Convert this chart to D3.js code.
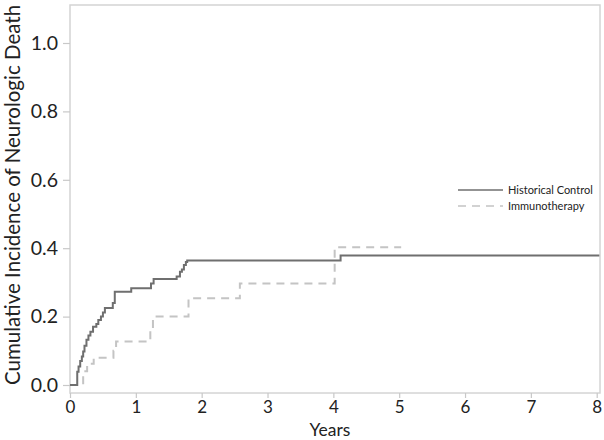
<!DOCTYPE html>
<html><head><meta charset="utf-8">
<script src="https://cdn.jsdelivr.net/npm/d3@7"></script>
<style>body{margin:0;background:#fff}svg{display:block}text{font-family:Lato,"Open Sans",sans-serif}</style>
</head><body>
<svg id="c" width="604" height="440"></svg>
<script>
// Historical Control: step times (years) and cumulative incidence after each step
const controlYears = [0, 0.11, 0.13, 0.155, 0.18, 0.2, 0.22, 0.25, 0.28, 0.31, 0.35, 0.40, 0.43, 0.47, 0.50, 0.53, 0.65, 0.68, 0.93, 1.23, 1.27, 1.62, 1.67, 1.70, 1.73, 1.76, 1.78, 4.11, 8.04];
const controlValues = [0, 0.039, 0.054, 0.07, 0.083, 0.098, 0.115, 0.132, 0.145, 0.156, 0.17, 0.178, 0.19, 0.2, 0.212, 0.225, 0.24, 0.273, 0.283, 0.297, 0.31, 0.317, 0.331, 0.338, 0.351, 0.36, 0.364, 0.379, 0.379];
// Immunotherapy
const immunoYears = [0, 0.2, 0.26, 0.36, 0.66, 0.70, 1.22, 1.26, 1.80, 2.58, 4.02, 5.03];
const immunoValues = [0, 0.04, 0.062, 0.08, 0.10, 0.127, 0.163, 0.2, 0.254, 0.297, 0.403, 0.403];
const xTicks = [0, 1, 2, 3, 4, 5, 6, 7, 8];
const yTicks = [0.0, 0.2, 0.4, 0.6, 0.8, 1.0];
const seriesNames = ["Historical Control", "Immunotherapy"];

const svg = d3.select("#c");
const x = d3.scaleLinear().domain([0, 8.05]).range([70, 600]);
const y = d3.scaleLinear().domain([0, 1]).range([385, 43]);
const frameTop = 5, frameBottom = 393;

// frame
svg.append("rect").attr("x", 70).attr("y", frameTop).attr("width", 530).attr("height", frameBottom - frameTop)
  .attr("fill", "none").attr("stroke", "#d4d4d4").attr("stroke-width", 1.5);

// y axis
const yAx = svg.append("g").attr("transform", "translate(70,0)")
  .call(d3.axisLeft(y).tickValues(yTicks).tickFormat(d3.format(".1f")).tickSize(7).tickPadding(5));
yAx.select(".domain").remove();
yAx.selectAll("line").attr("stroke", "#c8c8c8").attr("stroke-width", 1.2);
yAx.selectAll("text").attr("font-size", 19.5).attr("fill", "#222").style("font-family", "Lato, sans-serif");

// x axis
const xAx = svg.append("g").attr("transform", `translate(0,${frameBottom})`)
  .call(d3.axisBottom(x).tickValues(xTicks).tickFormat(d3.format("d")).tickSize(5).tickPadding(3));
xAx.select(".domain").remove();
xAx.selectAll("line").attr("stroke", "#c8c8c8").attr("stroke-width", 1.2);
xAx.selectAll("text").attr("font-size", 17).attr("fill", "#222").style("font-family", "Lato, sans-serif");

// titles
svg.append("text").attr("x", 330).attr("y", 436).attr("text-anchor", "middle")
  .attr("font-size", 17.5).attr("fill", "#222").text("Years");
svg.append("text").attr("transform", "translate(20,195) rotate(-90)").attr("text-anchor", "middle")
  .attr("font-size", 20.5).attr("fill", "#222").text("Cumulative Incidence of Neurologic Death");

const line = d3.line().x(d => x(d[0])).y(d => y(d[1])).curve(d3.curveStepAfter);
const control = controlYears.map((t, i) => [t, controlValues[i]]);
const immuno = immunoYears.map((t, i) => [t, immunoValues[i]]);

svg.append("path").datum(immuno).attr("d", line).attr("fill", "none")
  .attr("stroke", "#c4c4c4").attr("stroke-width", 2).attr("stroke-dasharray", "8,6");
svg.append("path").datum(control).attr("d", line).attr("fill", "none")
  .attr("stroke", "#6f6f6f").attr("stroke-width", 2);

// legend
const lg = svg.append("g");
const styles = [{c: "#6f6f6f", d: null}, {c: "#c4c4c4", d: "8,6"}];
seriesNames.forEach((n, i) => {
  const yy = 190 + i * 16;
  lg.append("line").attr("x1", 458).attr("x2", 503).attr("y1", yy).attr("y2", yy)
    .attr("stroke", styles[i].c).attr("stroke-width", 1.5).attr("stroke-dasharray", styles[i].d);
  lg.append("text").attr("x", 508).attr("y", yy + 4).attr("font-size", 11).attr("fill", "#222").text(n);
});
</script>
</body></html>
